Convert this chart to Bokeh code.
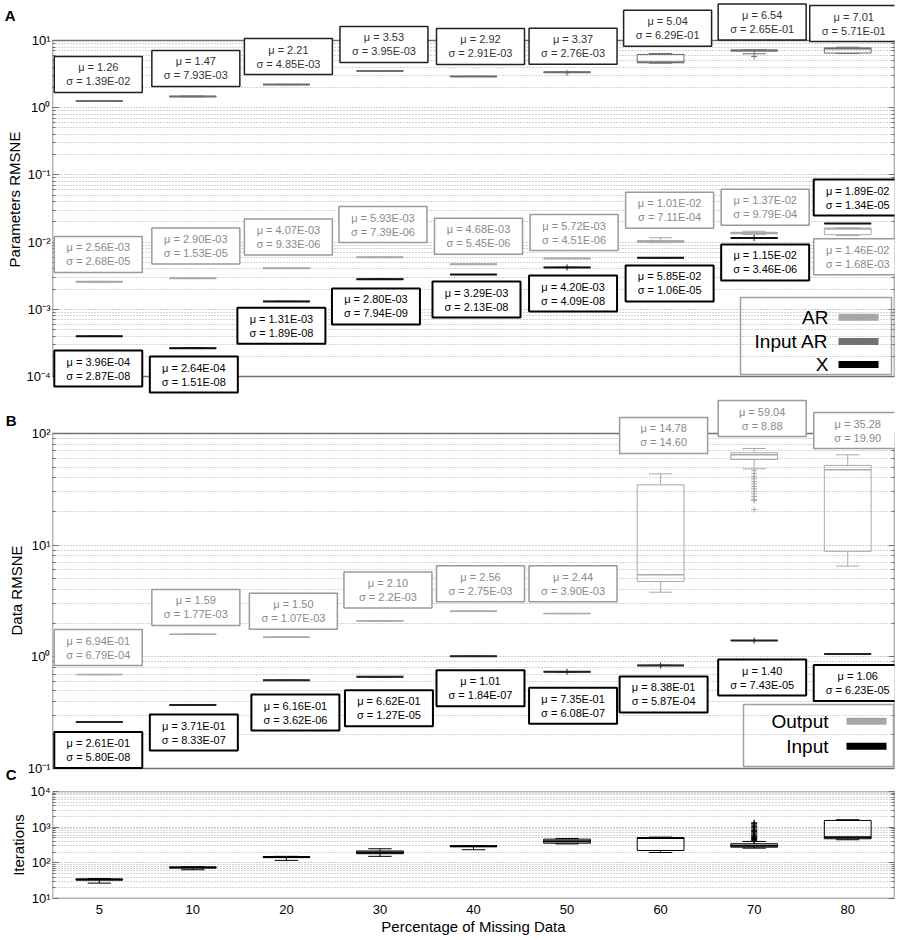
import math
from bokeh.plotting import figure
from bokeh.models import (Range1d, FixedTicker, LogAxis, BoxAnnotation, Label,
                          LabelSet, ColumnDataSource, CustomJSTickFormatter)
from bokeh.core.properties import value
from bokeh.layouts import column
from bokeh.embed import file_html
from bokeh.resources import INLINE

# ---------------- data ----------------
categories = ["5", "10", "20", "30", "40", "50", "60", "70", "80"]

# Panel A - Input AR (dark gray)
a_inar_lo  = [1.24, 1.45, 2.20, 3.52, 2.91, 3.36, 4.6, 6.35, 6.4]
a_inar_q1  = [1.255, 1.465, 2.205, 3.525, 2.915, 3.365, 4.7, 7.0, 6.5]
a_inar_med = [1.26, 1.47, 2.21, 3.53, 2.92, 3.37, 4.75, 7.1, 7.6]
a_inar_q3  = [1.265, 1.475, 2.215, 3.535, 2.925, 3.375, 6.2, 7.2, 7.7]
a_inar_hi  = [1.28, 1.49, 2.22, 3.54, 2.93, 3.38, 6.4, 7.25, 7.95]
a_inar_out = [[], [], [], [], [], [3.30], [], [5.8], []]
a_inar_mu  = ["1.26", "1.47", "2.21", "3.53", "2.92", "3.37", "5.04", "6.54", "7.01"]
a_inar_sd  = ["1.39E-02", "7.93E-03", "4.85E-03", "3.95E-03", "2.91E-03", "2.76E-03",
              "6.29E-01", "2.65E-01", "5.71E-01"]

# Panel A - AR (light gray)
a_ar_lo  = [2.52e-3, 2.88e-3, 4.05e-3, 5.90e-3, 4.66e-3, 5.70e-3, 0.0098, 0.0130, 0.0125]
a_ar_q1  = [2.55e-3, 2.89e-3, 4.06e-3, 5.92e-3, 4.67e-3, 5.71e-3, 0.0100, 0.0133, 0.0129]
a_ar_med = [2.56e-3, 2.90e-3, 4.07e-3, 5.93e-3, 4.68e-3, 5.72e-3, 0.0101, 0.0137, 0.0158]
a_ar_q3  = [2.57e-3, 2.91e-3, 4.08e-3, 5.94e-3, 4.69e-3, 5.73e-3, 0.01057, 0.0140, 0.0161]
a_ar_hi  = [2.60e-3, 2.92e-3, 4.10e-3, 5.96e-3, 4.70e-3, 5.75e-3, 0.0116, 0.0145, 0.0163]
a_ar_out = [[], [], [], [], [], [], [], [], []]
a_ar_mu  = ["2.56E-03", "2.90E-03", "4.07E-03", "5.93E-03", "4.68E-03", "5.72E-03",
            "1.01E-02", "1.37E-02", "1.46E-02"]
a_ar_sd  = ["2.68E-05", "1.53E-05", "9.33E-06", "7.39E-06", "5.45E-06", "4.51E-06",
            "7.11E-04", "9.79E-04", "1.68E-03"]

# Panel A - X (black)
a_x_med = [3.96e-4, 2.64e-4, 1.31e-3, 2.80e-3, 3.29e-3, 4.20e-3, 5.85e-3, 1.15e-2, 1.89e-2]
a_x_out = [[], [], [], [], [], [4.20e-3], [], [1.15e-2], []]
a_x_mu  = ["3.96E-04", "2.64E-04", "1.31E-03", "2.80E-03", "3.29E-03", "4.20E-03",
           "5.85E-02", "1.15E-02", "1.89E-02"]
a_x_sd  = ["2.87E-08", "1.51E-08", "1.89E-08", "7.94E-09", "2.13E-08", "4.09E-08",
           "1.06E-05", "3.46E-06", "1.34E-05"]

# Panel B - Output (light gray)
b_out_lo  = [0.692, 1.585, 1.497, 2.095, 2.555, 2.435, 3.79, 48.3, 6.5]
b_out_q1  = [0.693, 1.588, 1.499, 2.098, 2.558, 2.438, 4.73, 58.5, 8.8]
b_out_med = [0.694, 1.59, 1.50, 2.10, 2.56, 2.44, 5.43, 64.4, 47.3]
b_out_q3  = [0.695, 1.592, 1.501, 2.102, 2.562, 2.442, 34.7, 67.2, 51.8]
b_out_hi  = [0.696, 1.595, 1.503, 2.105, 2.565, 2.445, 43.5, 73.4, 64.4]
b_out_out = [[], [], [], [], [], [], [],
             [46.7, 43.6, 41.2, 39.3, 37.1, 35.5, 33.5, 32.0, 30.4, 28.8, 27.3, 25.8, 25.1, 20.8],
             []]
b_out_mu  = ["6.94E-01", "1.59", "1.50", "2.10", "2.56", "2.44", "14.78", "59.04", "35.28"]
b_out_sd  = ["6.79E-04", "1.77E-03", "1.07E-03", "2.2E-03", "2.75E-03", "3.90E-03",
             "14.60", "8.88", "19.90"]

# Panel B - Input (black)
b_in_med = [0.261, 0.371, 0.616, 0.662, 1.01, 0.735, 0.838, 1.40, 1.06]
b_in_out = [[], [], [], [], [], [0.735], [0.838], [1.40], []]
b_in_mu  = ["2.61E-01", "3.71E-01", "6.16E-01", "6.62E-01", "1.01", "7.35E-01",
            "8.38E-01", "1.40", "1.06"]
b_in_sd  = ["5.80E-08", "8.33E-07", "3.62E-06", "1.27E-05", "1.84E-07", "6.08E-07",
            "5.87E-04", "7.43E-05", "6.23E-05"]

# Panel C - Iterations (black)
c_lo  = [27, 64, 117, 152, 233, 340, 195, 258, 444]
c_q1  = [33, 72, 140, 180, 285, 356, 222, 275, 473]
c_med = [34, 74, 145, 195, 294, 400, 500, 301, 520]
c_q3  = [35, 76, 150, 215, 300, 461, 505, 343, 1541]
c_hi  = [36, 78, 152, 248, 305, 480, 525, 398, 1620]
c_out = [[], [], [], [], [], [], [],
         [420, 450, 480, 510, 550, 590, 640, 690, 750, 810, 880, 960, 1050, 1150, 1250, 1330],
         []]

# ---------------- layout (screen px) ----------------
W = 905
BL, BR = 52, 11
PPX = (W - BL - BR) / 9.0
FONT = "Liberation Sans"

# label box offsets (px) relative to category centre / median line
a_inar_dx = [-1, 3, 2, 4, 7, 6, 7, 8, 6]
a_inar_dy = [26.5, 28, 28, 26.4, 30, 26, 34, 28.5, 25]
a_ar_dx = [-1, 3, 2, 3, 5, 7, 9, 11, 10]
a_ar_dy = [27.4, 32.3, 31.3, 32.8, 28, 25.9, 31.5, 25.6, -27.9]
a_x_dx = [-1, 1, -5, -4, 3, 6, 9, 11, 10]
a_x_dy = [-32.2, -26.4, -24.4, -27.2, -25, -26.1, -25.7, -24.4, 26]
b_out_dx = [-1, 3, 7, 8, 7, 6, 3, 8, 10]
b_out_dy = [27, 26.9, 26, 30.9, 27.5, 29.8, 139.3, 36.3, 39.3]
b_in_dx = [-1, 1, 9, 9, 7, 6, 3, 8, 10]
b_in_dy = [-28.1, -27.6, -32.2, -31.4, -31.8, -34, -29, -37, -29]

SUP_JS = """
const sup = {'-':'\u207b','0':'\u2070','1':'\u00b9','2':'\u00b2','3':'\u00b3','4':'\u2074',
             '5':'\u2075','6':'\u2076','7':'\u2077','8':'\u2078','9':'\u2079'};
const e = Math.round(Math.log10(tick));
return '10' + String(e).split('').map(c => sup[c]).join('');
"""


def shift(v, px, ppd):
    return v * 10 ** (px / ppd)


def make_fig(h, top, bottom, e0, e1, ylabel, show_x, pad_top=0.0, pad_bot=0.0):
    """pad_top / pad_bot: extra screen px of frame beyond the data box (for labels)."""
    data_h = h - top - bottom - pad_top - pad_bot
    ppd = data_h / float(e1 - e0)
    y0 = shift(10.0 ** e0, -pad_bot, ppd)
    y1 = shift(10.0 ** e1, pad_top, ppd)
    p = figure(width=W, height=h, x_range=Range1d(0.5, 9.5),
               y_range=Range1d(y0, y1), y_axis_type="log",
               output_backend="svg", toolbar_location=None,
               min_border_left=BL, min_border_right=BR,
               min_border_top=top, min_border_bottom=bottom)
    p.background_fill_color = "white"
    p.border_fill_color = "white"
    p.outline_line_color = None
    majors = [10.0 ** e for e in range(e0, e1 + 1)]
    minors = [k * 10.0 ** e for e in range(e0, e1) for k in range(2, 10)]
    ticker = FixedTicker(ticks=majors, minor_ticks=minors)
    ya = p.yaxis[0]
    ya.ticker = ticker
    ya.formatter = CustomJSTickFormatter(code=SUP_JS)
    ya.major_tick_in = 6
    ya.major_tick_out = 0
    ya.minor_tick_in = 3
    ya.minor_tick_out = 0
    ya.major_tick_line_color = "#707070"
    ya.minor_tick_line_color = "#707070"
    ya.axis_line_color = None
    ya.major_label_text_font = FONT
    ya.major_label_text_font_size = "13px"
    ya.major_label_text_color = "black"
    ya.major_label_standoff = 2
    ya.axis_label = ylabel
    ya.axis_label_text_font = FONT
    ya.axis_label_text_font_size = "15px"
    ya.axis_label_text_font_style = "normal"
    ya.axis_label_text_color = "black"
    ya.axis_label_standoff = 0
    ra = LogAxis(ticker=ticker, formatter=CustomJSTickFormatter(code="return '';"),
                 major_tick_in=6, major_tick_out=0, minor_tick_in=3, minor_tick_out=0,
                 major_tick_line_color="#707070", minor_tick_line_color="#707070",
                 axis_line_color=None,
                 major_label_text_font_size="0px", major_label_standoff=0)
    p.add_layout(ra, "right")
    p.ygrid.grid_line_color = "#9a9a9a"
    p.ygrid.grid_line_dash = "1 2"
    p.ygrid.minor_grid_line_color = "#a8a8a8"
    p.ygrid.minor_grid_line_dash = "1 2"
    p.xgrid.visible = False
    # data box outline
    p.add_layout(BoxAnnotation(left=0.5, right=9.5, bottom=10.0 ** e0, top=10.0 ** e1,
                               fill_alpha=0.0, line_color="#707070", line_alpha=1.0,
                               line_width=1.5))
    xa = p.xaxis[0]
    xa.ticker = FixedTicker(ticks=list(range(1, 10)))
    xa.formatter = CustomJSTickFormatter(args=dict(labels=categories),
                                         code="return labels[Math.round(tick) - 1];")
    if show_x:
        xa.major_tick_in = 0
        xa.major_tick_out = 0
        xa.minor_tick_in = 0
        xa.minor_tick_out = 0
        xa.axis_line_color = None
        xa.major_label_text_font = FONT
        xa.major_label_text_font_size = "13px"
        xa.major_label_text_color = "black"
        xa.major_label_standoff = 6
        xa.axis_label = "Percentage of Missing Data"
        xa.axis_label_text_font = FONT
        xa.axis_label_text_font_size = "15px"
        xa.axis_label_text_font_style = "normal"
        xa.axis_label_text_color = "black"
        xa.axis_label_standoff = 1
    else:
        xa.visible = False
    return p, ppd


def add_letters(p, ys, letters):
    la = LogAxis(ticker=FixedTicker(ticks=ys, minor_ticks=[]),
                 formatter=CustomJSTickFormatter(
                     args=dict(vals=ys, labels=letters),
                     code="""
let best = 0;
for (let i = 0; i < vals.length; i++) {
  if (Math.abs(Math.log(vals[i] / tick)) < Math.abs(Math.log(vals[best] / tick))) best = i;
}
return labels[best];"""),
                 axis_line_color=None, major_tick_line_color=None,
                 minor_tick_line_color=None, major_tick_in=0, major_tick_out=0,
                 minor_tick_in=0, minor_tick_out=0, major_label_standoff=-12,
                 major_label_text_font=FONT, major_label_text_font_size="15px",
                 major_label_text_font_style="bold", major_label_text_color="black")
    p.add_layout(la, "left")


def add_boxes(p, lo, q1, med, q3, hi, out, color, med_w=2):
    x = [i + 1 for i in range(len(categories))]
    src = ColumnDataSource(dict(
        x=x, lo=lo, q1=q1, med=med, q3=q3, hi=hi,
        xl=[v - 0.25 for v in x], xr=[v + 0.25 for v in x],
        cl=[v - 0.125 for v in x], cr=[v + 0.125 for v in x]))
    kw = dict(source=src, line_color=color, line_width=1)
    p.segment(x0="x", y0="q3", x1="x", y1="hi", **kw)
    p.segment(x0="x", y0="q1", x1="x", y1="lo", **kw)
    p.segment(x0="cl", y0="hi", x1="cr", y1="hi", **kw)
    p.segment(x0="cl", y0="lo", x1="cr", y1="lo", **kw)
    p.vbar(x="x", width=0.5, bottom="q1", top="q3", fill_color=None, **kw)
    p.segment(x0="xl", y0="med", x1="xr", y1="med", source=src, line_color=color,
              line_width=med_w)
    ox = [i + 1 for i in range(len(out)) for _ in out[i]]
    oy = [v for i in range(len(out)) for v in out[i]]
    if ox:
        p.scatter(ox, oy, marker="cross", size=6, line_color=color, line_width=1)


def add_labels(p, ppd, med, dx, dy, mus, sds, text_col, line_col, lw):
    xs, ym, ys = [], [], []
    for i in range(len(categories)):
        xc = i + 1 + dx[i] / PPX
        yc = shift(med[i], dy[i], ppd)
        p.add_layout(BoxAnnotation(left=xc - 44 / PPX, right=xc + 44 / PPX,
                                   bottom=shift(yc, -18, ppd), top=shift(yc, 18, ppd),
                                   fill_color="white", fill_alpha=1.0,
                                   line_color=line_col, line_alpha=1.0, line_width=lw))
        xs.append(xc)
        ym.append(shift(yc, 7, ppd))
        ys.append(shift(yc, -7, ppd))
    src = ColumnDataSource(dict(x=xs + xs, y=ym + ys,
                                t=["\u03bc = " + m for m in mus] + ["\u03c3 = " + s for s in sds]))
    p.add_layout(LabelSet(x="x", y="y", text="t", source=src, text_align="center",
                          text_baseline="middle", text_font=value(FONT),
                          text_font_size="11px", text_color=text_col))


def add_legend(p, ppd, ybot, box_px, entries, text_px, sw_px):
    # box_px = (left_from_right, right_from_right, bottom_above, top_above)
    l, r, b, t = box_px
    p.add_layout(BoxAnnotation(left=9.5 - l / PPX, right=9.5 - r / PPX,
                               bottom=shift(ybot, b, ppd), top=shift(ybot, t, ppd),
                               fill_alpha=0.0, line_color="#a0a0a0", line_alpha=1.0,
                               line_width=1.5))
    for name, col, yc in entries:
        p.add_layout(Label(x=9.5 - text_px / PPX, y=shift(ybot, yc, ppd), text=name,
                           text_align="right", text_baseline="middle", text_font=FONT,
                           text_font_size="19px", text_color="black"))
        p.add_layout(BoxAnnotation(left=9.5 - sw_px[0] / PPX, right=9.5 - sw_px[1] / PPX,
                                   bottom=shift(ybot, yc - 3.5, ppd),
                                   top=shift(ybot, yc + 3.5, ppd),
                                   fill_color=col, fill_alpha=1.0, line_alpha=0.0))


# ---------------- panel A ----------------
pA, ppdA = make_fig(398, 0, 0, -4, 1, "Parameters RMSNE", False, pad_top=40, pad_bot=22)
add_boxes(pA, a_inar_lo, a_inar_q1, a_inar_med, a_inar_q3, a_inar_hi, a_inar_out, "#6e6e6e")
add_boxes(pA, a_ar_lo, a_ar_q1, a_ar_med, a_ar_q3, a_ar_hi, a_ar_out, "#aaaaaa")
add_boxes(pA, a_x_med, a_x_med, a_x_med, a_x_med, a_x_med, a_x_out, "#111111")
add_labels(pA, ppdA, a_inar_med, a_inar_dx, a_inar_dy, a_inar_mu, a_inar_sd, "#333333", "#222222", 1.5)
add_labels(pA, ppdA, a_ar_med, a_ar_dx, a_ar_dy, a_ar_mu, a_ar_sd, "#8a8a8a", "#9a9a9a", 1.5)
add_labels(pA, ppdA, a_x_med, a_x_dx, a_x_dy, a_x_mu, a_x_sd, "black", "black", 2)
add_legend(pA, ppdA, 1e-4, (154, 3, 2, 79),
           [("AR", "#a6a6a6", 59.3), ("Input AR", "#707070", 35), ("X", "#000000", 12)],
           66, (56, 16))
add_letters(pA, [shift(10.0, 25, ppdA)], ["A"])

# ---------------- panel B ----------------
pB, ppdB = make_fig(384, 0, 0, -1, 2, "Data RMSNE", False, pad_top=35, pad_bot=14)
add_boxes(pB, b_out_lo, b_out_q1, b_out_med, b_out_q3, b_out_hi, b_out_out, "#aaaaaa", 1.5)
add_boxes(pB, b_in_med, b_in_med, b_in_med, b_in_med, b_in_med, b_in_out, "#222222")
add_labels(pB, ppdB, b_out_med, b_out_dx, b_out_dy, b_out_mu, b_out_sd, "#8a8a8a", "#9a9a9a", 1.5)
add_labels(pB, ppdB, b_in_med, b_in_dx, b_in_dy, b_in_mu, b_in_sd, "black", "black", 2)
add_legend(pB, ppdB, 0.1, (151, 1, 2, 64),
           [("Output", "#a6a6a6", 47.3), ("Input", "#000000", 22.3)],
           66, (48, 8))
add_letters(pB, [shift(0.1, -5.5, ppdB), shift(100.0, 13, ppdB)], ["C", "B"])

# ---------------- panel C ----------------
pC, ppdC = make_fig(158, 9, 42, 1, 4, "Iterations", True)
add_boxes(pC, c_lo, c_q1, c_med, c_q3, c_hi, c_out, "#000000", 2)

layout = column(pA, pB, pC, spacing=0)
open("out.html", "w").write(file_html(layout, INLINE))
